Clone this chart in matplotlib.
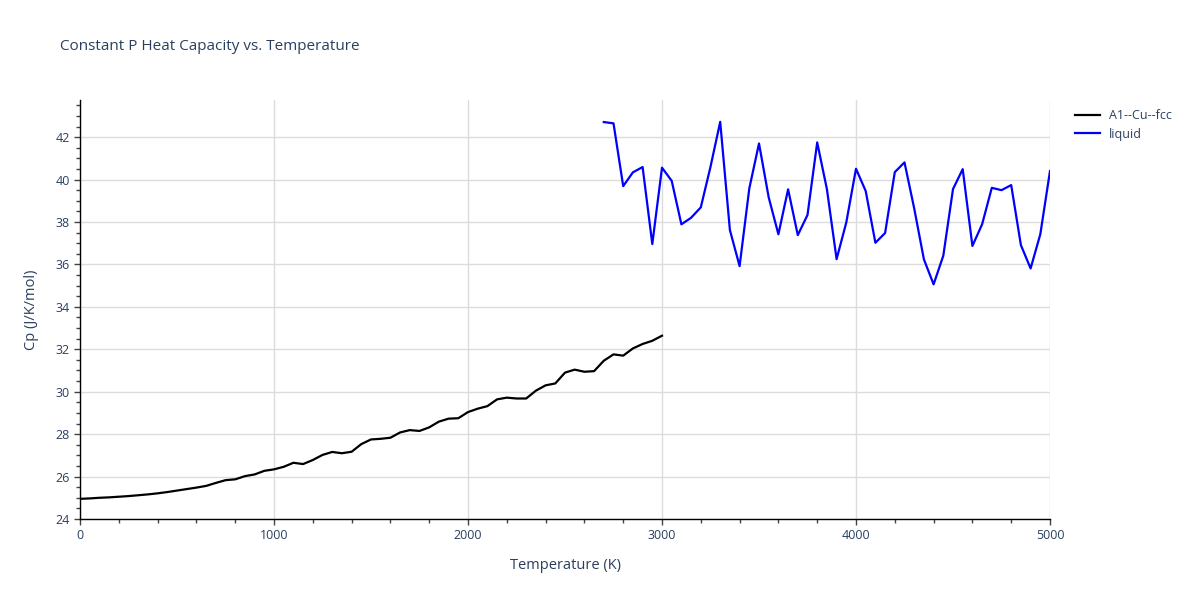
import matplotlib
matplotlib.use("Agg")
import matplotlib.pyplot as plt
from matplotlib.ticker import MultipleLocator

# ---- data ----
fcc_T = list(range(0, 3001, 50))
fcc_cp = [24.95, 24.97, 25.00, 25.02, 25.05, 25.08, 25.12, 25.16, 25.21, 25.27,
          25.34, 25.41, 25.48, 25.56, 25.70, 25.83, 25.87, 26.02, 26.10, 26.27,
          26.34, 26.46, 26.65, 26.59, 26.78, 27.02, 27.16, 27.10, 27.17, 27.53,
          27.75, 27.78, 27.83, 28.08, 28.19, 28.15, 28.32, 28.59, 28.73, 28.75,
          29.04, 29.20, 29.32, 29.64, 29.72, 29.68, 29.68, 30.05, 30.30, 30.39,
          30.90, 31.04, 30.94, 30.97, 31.46, 31.76, 31.70, 32.04, 32.25, 32.40,
          32.64]

liq_T = list(range(2700, 5001, 50))
liq_cp = [42.71, 42.65, 39.69, 40.34, 40.59, 36.96, 40.56, 39.94, 37.89, 38.20,
          38.69, 40.60, 42.72, 37.62, 35.92, 39.58, 41.70, 39.16, 37.42, 39.54,
          37.38, 38.33, 41.75, 39.55, 36.25, 37.98, 40.51, 39.46, 37.02, 37.48,
          40.35, 40.81, 38.64, 36.24, 35.06, 36.41, 39.55, 40.49, 36.87, 37.89,
          39.61, 39.50, 39.74, 36.91, 35.81, 37.42, 40.40]

series_names = ["A1--Cu--fcc", "liquid"]
series_colors = ["#000000", "#0000ff"]

title = "Constant P Heat Capacity vs. Temperature"
xlabel = "Temperature (K)"
ylabel = "Cp (J/K/mol)"

txt = "#2a3f5f"
plt.rcParams["font.family"] = ["Open Sans", "DejaVu Sans"]

fig = plt.figure(figsize=(12, 6), dpi=100)
ax = fig.add_axes([80 / 1200, 1 - 519 / 600, 970 / 1200, 419 / 600])

ax.plot(fcc_T, fcc_cp, color=series_colors[0], lw=1.6, label=series_names[0],
        solid_joinstyle="round")
ax.plot(liq_T, liq_cp, color=series_colors[1], lw=1.6, label=series_names[1],
        solid_joinstyle="round")

ax.set_xlim(0, 5000)
ax.set_ylim(24, 43.75)

ax.xaxis.set_major_locator(MultipleLocator(1000))
ax.xaxis.set_minor_locator(MultipleLocator(200))
ax.yaxis.set_major_locator(MultipleLocator(2))
ax.yaxis.set_minor_locator(MultipleLocator(0.5))

ax.grid(True, which="major", color="#dcdcdc", lw=1)
ax.set_axisbelow(True)

for s in ["top", "right"]:
    ax.spines[s].set_visible(False)
for s in ["left", "bottom"]:
    ax.spines[s].set_color("#000000")
    ax.spines[s].set_linewidth(1)

ax.tick_params(which="both", direction="out", color="#444444", length=4, width=1,
               labelsize=9, labelcolor=txt)
ax.tick_params(which="minor", length=3)

ax.set_xlabel(xlabel, fontsize=10.5, color=txt, labelpad=11)
ax.set_ylabel(ylabel, fontsize=10.5, color=txt, labelpad=12)

fig.text(60 / 1200, 1 - 46 / 600, title, fontsize=11, color=txt, va="center", ha="left")

leg = ax.legend(loc="upper left", bbox_to_anchor=(1.021, 0.99), frameon=False,
                fontsize=9, handlelength=2.0, handletextpad=0.7, labelcolor=txt,
                borderaxespad=0, labelspacing=0.45)

fig.savefig("out.png", dpi=100)
